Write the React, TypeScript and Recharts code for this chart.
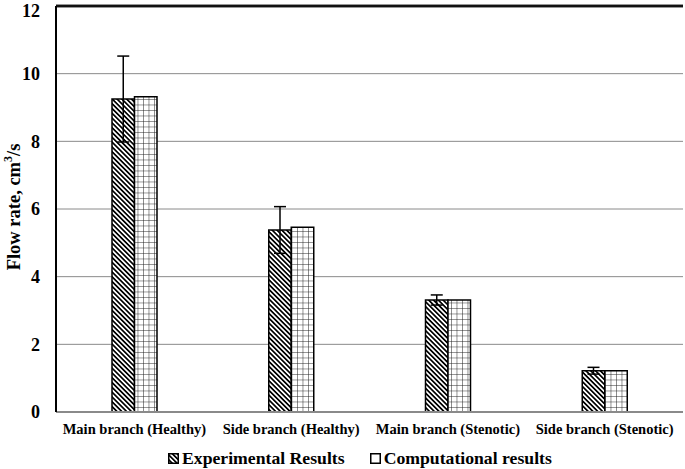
import React from "react";
import { BarChart, Bar, XAxis, YAxis, CartesianGrid, Legend, ErrorBar, ReferenceLine } from "recharts";

const categories = [
  "Main branch (Healthy)",
  "Side branch (Healthy)",
  "Main branch (Stenotic)",
  "Side branch (Stenotic)",
];
const experimental = [9.25, 5.38, 3.31, 1.22];
const experimentalError = [1.27, 0.69, 0.15, 0.1];
const computational = [9.32, 5.46, 3.31, 1.22];
const yTicks = [0, 2, 4, 6, 8, 10, 12];

const data = categories.map((name, i) => ({
  name,
  exp: experimental[i],
  expErr: experimentalError[i],
  comp: computational[i],
}));

const FONT = "'Liberation Serif', 'Times New Roman', serif";

const LegendContent = () => (
  <div
    style={{
      height: 27,
      display: "flex",
      alignItems: "center",
      paddingTop: 5,
      boxSizing: "border-box",
      fontFamily: FONT,
      fontWeight: "bold",
      fontSize: 17.7,
      color: "#000",
      paddingLeft: 168,
    }}
  >
    <svg width="11" height="11" style={{ marginRight: 3 }}>
      <defs>
        <pattern id="lghatch" patternUnits="userSpaceOnUse" width="6" height="3.4" patternTransform="rotate(45)">
          <rect x="0" y="0" width="6" height="3.4" fill="#fff" />
          <rect x="0" y="0" width="6" height="1.7" fill="#000" />
        </pattern>
      </defs>
      <rect x="0.75" y="0.75" width="9.5" height="9.5" fill="url(#lghatch)" stroke="#000" strokeWidth="1.5" />
    </svg>
    <span>Experimental Results</span>
    <svg width="11" height="11" style={{ marginLeft: 25, marginRight: 3 }}>
      <rect x="0.75" y="0.75" width="9.5" height="9.5" fill="#fff" stroke="#000" strokeWidth="1.5" />
    </svg>
    <span>Computational results</span>
  </div>
);

const YLabel = () => (
  <text
    x={14}
    y={207}
    transform="rotate(-90 14 207)"
    textAnchor="middle"
    dominantBaseline="central"
    fontFamily={FONT}
    fontWeight="bold"
    fontSize={18.5}
    fill="#000"
  >
    Flow rate, cm
    <tspan fontSize={12} dy={-6}>3</tspan>
    <tspan dy={6}>/s</tspan>
  </text>
);

export default function App() {
  return (
    <div style={{ position: "absolute", left: 0, top: 0, background: "#fff" }}>
      <BarChart
        width={685}
        height={469}
        data={data}
        margin={{ top: 5, right: 2, left: 0, bottom: 0 }}
        barGap={0}
        barSize={22.5}
      >
        <defs>
          <pattern id="chhatch" patternUnits="userSpaceOnUse" width="6" height="3.4" patternTransform="rotate(45)">
            <rect x="0" y="0" width="6" height="3.4" fill="#fff" />
            <rect x="0" y="0" width="6" height="1.7" fill="#000" />
          </pattern>
          <pattern id="chgrid" patternUnits="userSpaceOnUse" width="5.5" height="5.5">
            <rect x="0" y="0" width="5.5" height="5.5" fill="#fff" />
            <path d="M0,0 L5.5,0 M0,0 L0,5.5" stroke="#222" strokeWidth="1" />
          </pattern>
        </defs>
        <CartesianGrid vertical={false} stroke="#8a8a8a" strokeWidth={1} />
        <XAxis
          dataKey="name"
          axisLine={{ stroke: "#8a8a8a", strokeWidth: 2 }}
          tickLine={false}
          tickMargin={6}
          height={30}
          tick={{ fontFamily: FONT, fontWeight: "bold", fontSize: 14.5, fill: "#000" }}
          interval={0}
        />
        <XAxis
          xAxisId="top"
          dataKey="name"
          orientation="top"
          height={1}
          tick={false}
          tickLine={false}
          axisLine={{ stroke: "#111", strokeWidth: 2.5 }}
        />
        <YAxis
          domain={[0, 12]}
          ticks={yTicks}
          width={56}
          axisLine={{ stroke: "#000", strokeWidth: 2 }}
          tickLine={false}
          tickMargin={10}
          tick={{ fontFamily: FONT, fontWeight: "bold", fontSize: 18, fill: "#000" }}
          label={{ content: () => <YLabel /> }}
        />
        <YAxis
          yAxisId="right"
          orientation="right"
          domain={[0, 12]}
          width={0}
          tick={false}
          axisLine={{ stroke: "#000", strokeWidth: 2 }}
        />
        <ReferenceLine y={12} stroke="#111" strokeWidth={2.5} ifOverflow="visible" />
        <Legend verticalAlign="bottom" content={() => <LegendContent />} />
        <Bar
          dataKey="exp"
          name="Experimental Results"
          fill="url(#chhatch)"
          stroke="#000"
          strokeWidth={1.5}
          isAnimationActive={false}
        >
          <ErrorBar dataKey="expErr" width={6} stroke="#000" strokeWidth={1.5} direction="y" />
        </Bar>
        <Bar
          dataKey="comp"
          name="Computational results"
          fill="url(#chgrid)"
          stroke="#000"
          strokeWidth={1.5}
          isAnimationActive={false}
        />
      </BarChart>
    </div>
  );
}
